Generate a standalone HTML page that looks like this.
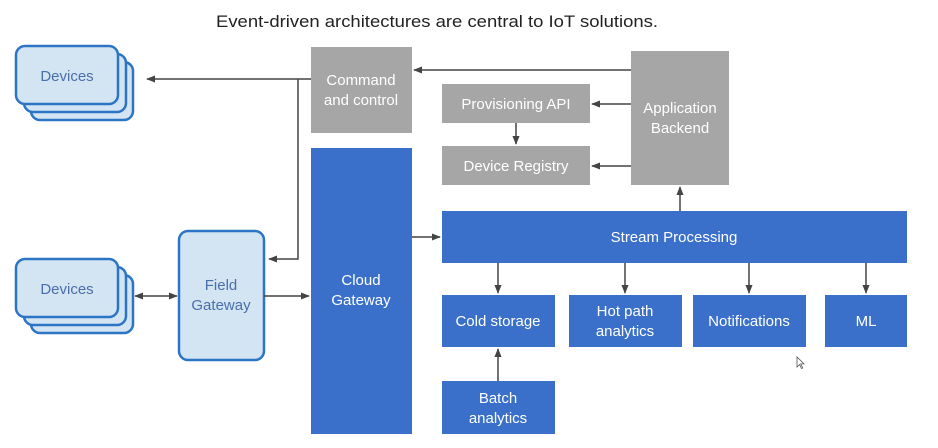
<!DOCTYPE html>
<html><head><meta charset="utf-8"><style>
html,body{margin:0;padding:0;background:#fff;}
svg{display:block;font-family:"Liberation Sans",sans-serif;}
</style></head><body>
<svg width="938" height="448" viewBox="0 0 938 448" xmlns="http://www.w3.org/2000/svg">
<defs>
<marker id="a" viewBox="0 0 10 10" refX="9" refY="5" markerWidth="9" markerHeight="9" markerUnits="userSpaceOnUse" orient="auto-start-reverse">
<path d="M0,1 L10,5 L0,9 z" fill="#444"/></marker>
</defs>
<rect width="938" height="448" fill="#fff"/>
<text x="437" y="27" text-anchor="middle" font-size="17" fill="#222" textLength="442" lengthAdjust="spacingAndGlyphs">Event-driven architectures are central to IoT solutions.</text>

<g fill="#d3e4f3" stroke="#2c74c4" stroke-width="2.5">
<rect x="31" y="62" width="102" height="58" rx="9"/>
<rect x="24" y="54" width="102" height="58" rx="9"/>
<rect x="16" y="46" width="102" height="58" rx="9"/>
<rect x="31" y="275" width="102" height="58" rx="9"/>
<rect x="24" y="267" width="102" height="58" rx="9"/>
<rect x="16" y="259" width="102" height="58" rx="9"/>
<rect x="179" y="231" width="85" height="129" rx="9"/>
</g>
<g font-size="15" fill="#4a6fa8" text-anchor="middle">
<text x="67" y="81">Devices</text>
<text x="67" y="294">Devices</text>
<text x="221" y="290">Field</text>
<text x="221" y="310">Gateway</text>
</g>

<g fill="#a6a6a6">
<rect x="311" y="47" width="101" height="86"/>
<rect x="631" y="51" width="98" height="134"/>
<rect x="442" y="84" width="148" height="39"/>
<rect x="442" y="146" width="148" height="39"/>
</g>
<g fill="#3a70c9">
<rect x="311" y="148" width="101" height="286"/>
<rect x="442" y="211" width="465" height="52"/>
<rect x="442" y="295" width="113" height="52"/>
<rect x="569" y="295" width="113" height="52"/>
<rect x="693" y="295" width="113" height="52"/>
<rect x="825" y="295" width="82" height="52"/>
<rect x="442" y="381" width="113" height="53"/>
</g>
<g font-size="15" fill="#fff" text-anchor="middle">
<text x="361" y="85">Command</text>
<text x="361" y="105">and control</text>
<text x="680" y="113">Application</text>
<text x="680" y="133">Backend</text>
<text x="516" y="109">Provisioning API</text>
<text x="516" y="171">Device Registry</text>
<text x="361" y="285">Cloud</text>
<text x="361" y="305">Gateway</text>
<text x="674" y="242">Stream Processing</text>
<text x="498" y="326">Cold storage</text>
<text x="625" y="316">Hot path</text>
<text x="625" y="336">analytics</text>
<text x="749" y="326">Notifications</text>
<text x="866" y="326">ML</text>
<text x="498" y="403">Batch</text>
<text x="498" y="423">analytics</text>
</g>

<g stroke="#444" stroke-width="1.5" fill="none">
<line x1="311" y1="79" x2="147" y2="79" marker-end="url(#a)"/>
<polyline points="298,79 298,259 269,259" marker-end="url(#a)"/>
<line x1="135" y1="296" x2="177" y2="296" marker-start="url(#a)" marker-end="url(#a)"/>
<line x1="264" y1="296" x2="309" y2="296" marker-end="url(#a)"/>
<line x1="631" y1="70" x2="414" y2="70" marker-end="url(#a)"/>
<line x1="631" y1="104" x2="592" y2="104" marker-end="url(#a)"/>
<line x1="631" y1="166" x2="592" y2="166" marker-end="url(#a)"/>
<line x1="516" y1="123" x2="516" y2="144" marker-end="url(#a)"/>
<line x1="680" y1="211" x2="680" y2="187" marker-end="url(#a)"/>
<line x1="412" y1="237" x2="440" y2="237" marker-end="url(#a)"/>
<line x1="498" y1="263" x2="498" y2="293" marker-end="url(#a)"/>
<line x1="625" y1="263" x2="625" y2="293" marker-end="url(#a)"/>
<line x1="749" y1="263" x2="749" y2="293" marker-end="url(#a)"/>
<line x1="866" y1="263" x2="866" y2="293" marker-end="url(#a)"/>
<line x1="498" y1="381" x2="498" y2="349" marker-end="url(#a)"/>
</g>
<path d="M797,357 l0,10 l2.5,-2.5 l2,4 l1.2,-0.6 l-2,-4 l3.3,0 z" fill="#fff" stroke="#555" stroke-width="0.8"/>
</svg>
</body></html>
